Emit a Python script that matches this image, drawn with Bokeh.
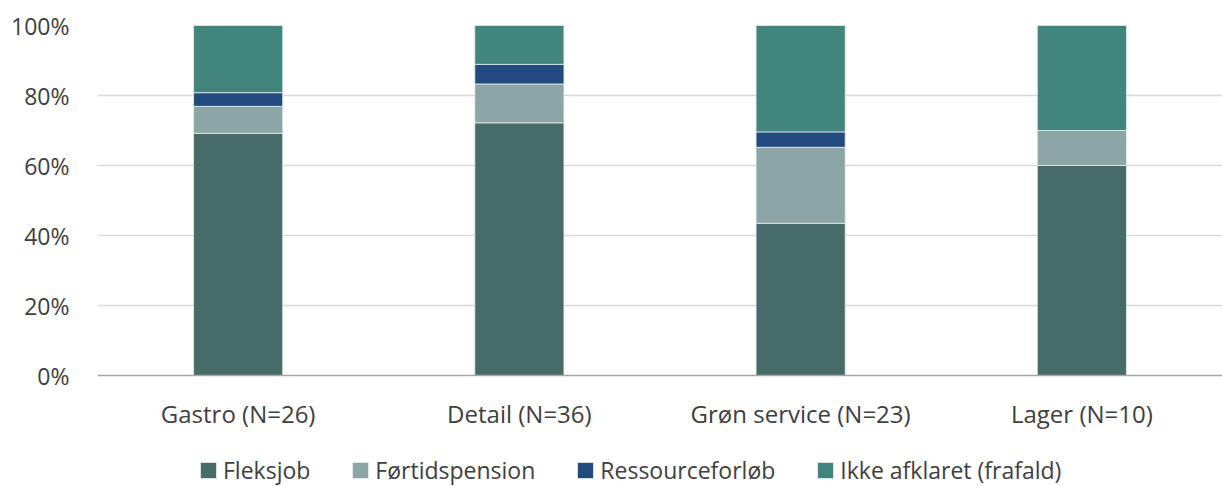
from bokeh.plotting import figure
from bokeh.models import (FactorRange, Range1d, NumeralTickFormatter, Legend, LegendItem,
                          ColumnDataSource, FixedTicker, Span)
from bokeh.embed import file_html
from bokeh.resources import INLINE

categories = ["Gastro (N=26)", "Detail (N=36)", "Grøn service (N=23)", "Lager (N=10)"]
series = ["Fleksjob", "Førtidspension", "Ressourceforløb", "Ikke afklaret (frafald)"]
fleksjob = [0.692, 0.722, 0.435, 0.60]
fortidspension = [0.077, 0.111, 0.217, 0.10]
ressourceforlob = [0.039, 0.056, 0.044, 0.0]
ikke_afklaret = [0.192, 0.111, 0.304, 0.30]
colors = ["#476B67", "#8BA6A4", "#224A7E", "#41857D"]
yticks = [0, 0.2, 0.4, 0.6, 0.8, 1.0]

FONT = "Open Sans"
TXT = "#404040"
FRAME_H = 461          # px, frame extends below 0% to hold category labels + legend
PX = 350.0             # px for 0..100%
LABEL_OFFSET = -38 / PX  # category labels sit 38px below the 0% line

src = ColumnDataSource(dict(cat=categories, s0=fleksjob, s1=fortidspension,
                            s2=ressourceforlob, s3=ikke_afklaret))

p = figure(x_range=FactorRange(*categories, range_padding=0),
           y_range=Range1d(1.0 - FRAME_H / PX, 1.0),
           frame_width=1125, frame_height=FRAME_H, output_backend="svg", toolbar_location=None,
           min_border_left=97, min_border_right=0, min_border_top=25, min_border_bottom=0)
p.outline_line_color = None

rs = p.vbar_stack(["s0", "s1", "s2", "s3"], x="cat", width=0.317, source=src,
                  color=colors, line_color="#E8EEEE", line_width=0.8)

p.text(x="cat", y=LABEL_OFFSET, text="cat", source=src,
       text_font={"value": FONT}, text_font_size="24px", text_color=TXT,
       text_align="center", text_baseline="middle")

p.add_layout(Span(location=0, dimension="width", line_color="#A6A6A6", line_width=1.5))

p.yaxis.ticker = FixedTicker(ticks=yticks)
p.yaxis.formatter = NumeralTickFormatter(format="0%")
p.yaxis.axis_line_color = None
p.yaxis.major_tick_line_color = None
p.yaxis.minor_tick_line_color = None
p.yaxis.major_label_text_font = FONT
p.yaxis.major_label_text_font_size = "23px"
p.yaxis.major_label_text_color = TXT
p.yaxis.major_label_standoff = 22

p.xaxis.visible = False

p.xgrid.grid_line_color = None
p.ygrid.grid_line_color = "#D9D9D9"
p.ygrid.grid_line_width = 1.5
p.ygrid.ticker = FixedTicker(ticks=yticks[1:])

legend = Legend(items=[LegendItem(label=s, renderers=[r]) for s, r in zip(series, rs)],
                orientation="horizontal", location=(101, 0),
                label_text_font=FONT, label_text_font_size="23px", label_text_color=TXT,
                glyph_width=20, glyph_height=20, label_standoff=5, spacing=40,
                border_line_color=None, background_fill_alpha=0, padding=0, margin=0)
p.add_layout(legend, "center")

open("out.html", "w").write(file_html(p, INLINE))
